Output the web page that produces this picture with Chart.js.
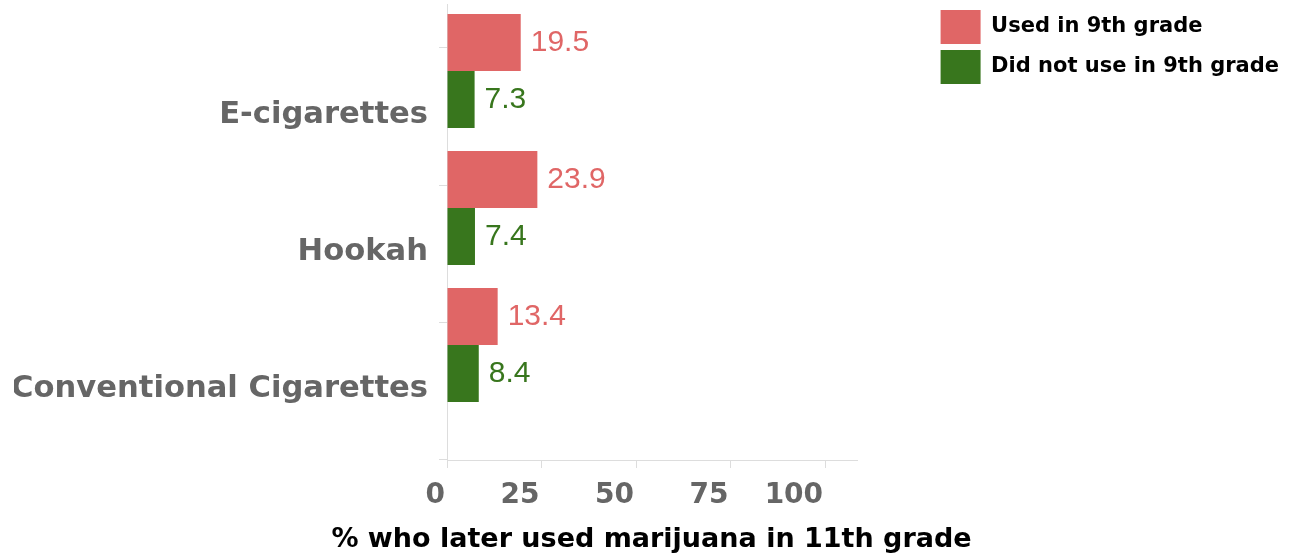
<!DOCTYPE html>
<html>
<head>
<meta charset="utf-8">
<script src="https://cdn.jsdelivr.net/npm/chart.js@4.4.1/dist/chart.umd.min.js"></script>
<style>
  html, body { margin: 0; padding: 0; background: #ffffff; }
  #wrap { width: 1295px; height: 558px; }
</style>
</head>
<body>
<div id="wrap"><canvas id="c" width="1295" height="558"></canvas></div>
<script>
// ---- data ----
const categories = ['E-cigarettes', 'Hookah', 'Conventional Cigarettes'];
const seriesNames = ['Used in 9th grade', 'Did not use in 9th grade'];
const usedIn9th = [19.5, 23.9, 13.4];
const notUsedIn9th = [7.3, 7.4, 8.4];
const xTickValues = [0, 25, 50, 75, 100];
const xAxisTitle = '% who later used marijuana in 11th grade';

// ---- style ----
const RED = '#e06666';
const GREEN = '#38761d';
const GRID = '#dddddd';
const LABEL_FONT = '"DejaVu Sans", sans-serif';

const valueLabels = {
  id: 'valueLabels',
  afterDatasetsDraw(chart) {
    const ctx = chart.ctx;
    ctx.save();
    ctx.font = '30px "Liberation Sans", Arial, sans-serif';
    ctx.textBaseline = 'middle';
    ctx.textAlign = 'left';
    chart.data.datasets.forEach((ds, di) => {
      const meta = chart.getDatasetMeta(di);
      if (meta.hidden) return;
      meta.data.forEach((bar, i) => {
        ctx.fillStyle = ds.backgroundColor;
        ctx.fillText(ds.data[i].x.toFixed(1), bar.x + 10, bar.y);
      });
    });
    ctx.restore();
  }
};

const toPoints = arr => arr.map((v, i) => ({ x: v, y: i }));

new Chart(document.getElementById('c'), {
  type: 'bar',
  data: {
    datasets: [
      { label: seriesNames[0], data: toPoints(usedIn9th), backgroundColor: RED, borderWidth: 0 },
      { label: seriesNames[1], data: toPoints(notUsedIn9th), backgroundColor: GREEN, borderWidth: 0 }
    ]
  },
  options: {
    indexAxis: 'y',
    responsive: false,
    devicePixelRatio: 1,
    animation: false,
    categoryPercentage: 0.832,
    barPercentage: 1,
    layout: { padding: { top: 4, right: 6, bottom: 0, left: 14 } },
    plugins: {
      tooltip: { enabled: false },
      title: {
        display: true,
        position: 'bottom',
        text: xAxisTitle,
        color: '#000000',
        padding: { top: 0, bottom: 2 },
        font: { family: LABEL_FONT, weight: 'bold', size: 27 }
      },
      legend: {
        position: 'right',
        align: 'start',
        maxWidth: 420,
        labels: {
          boxWidth: 40,
          boxHeight: 34,
          padding: 6,
          color: '#000000',
          font: { family: LABEL_FONT, weight: 'bold', size: 21 }
        }
      }
    },
    scales: {
      x: {
        type: 'linear',
        min: 0,
        max: 108.6,
        offset: false,
        afterFit: s => { s.height = 63.6; s.paddingLeft = 0; s.paddingRight = 0; },
        afterBuildTicks: s => { s.ticks = xTickValues.map(v => ({ value: v })); },
        grid: { offset: false, drawOnChartArea: false, drawTicks: true, tickLength: 8, color: GRID },
        border: { display: true, color: GRID },
        ticks: {
          align: 'end',
          labelOffset: -2,
          padding: 11,
          color: '#666666',
          font: { family: LABEL_FONT, weight: 'bold', size: 28 }
        }
      },
      y: {
        type: 'linear',
        reverse: true,
        offset: false,
        min: -0.489,
        max: 2.839,
        afterFit: s => { s.width = 433; s.paddingTop = 0; s.paddingBottom = 0; },
        afterBuildTicks: s => {
          s.ticks = categories.concat(['']).map((c, k) => ({ value: k - 0.168 }));
        },
        grid: { offset: false, drawOnChartArea: false, drawTicks: true, tickLength: 8, color: GRID },
        border: { display: true, color: GRID },
        ticks: {
          autoSkip: false,
          labelOffset: 67,
          padding: 11,
          color: '#666666',
          font: { family: LABEL_FONT, weight: 'bold', size: 30.6 },
          callback: (v, idx) => (categories[idx] !== undefined ? categories[idx] : '')
        }
      },
      gap: {
        type: 'linear',
        position: 'right',
        display: true,
        offset: false,
        afterFit: s => { s.width = 77; s.paddingTop = 0; s.paddingBottom = 0; },
        grid: { display: false },
        border: { display: false },
        ticks: { display: false }
      }
    }
  },
  plugins: [valueLabels]
});
</script>
</body>
</html>
